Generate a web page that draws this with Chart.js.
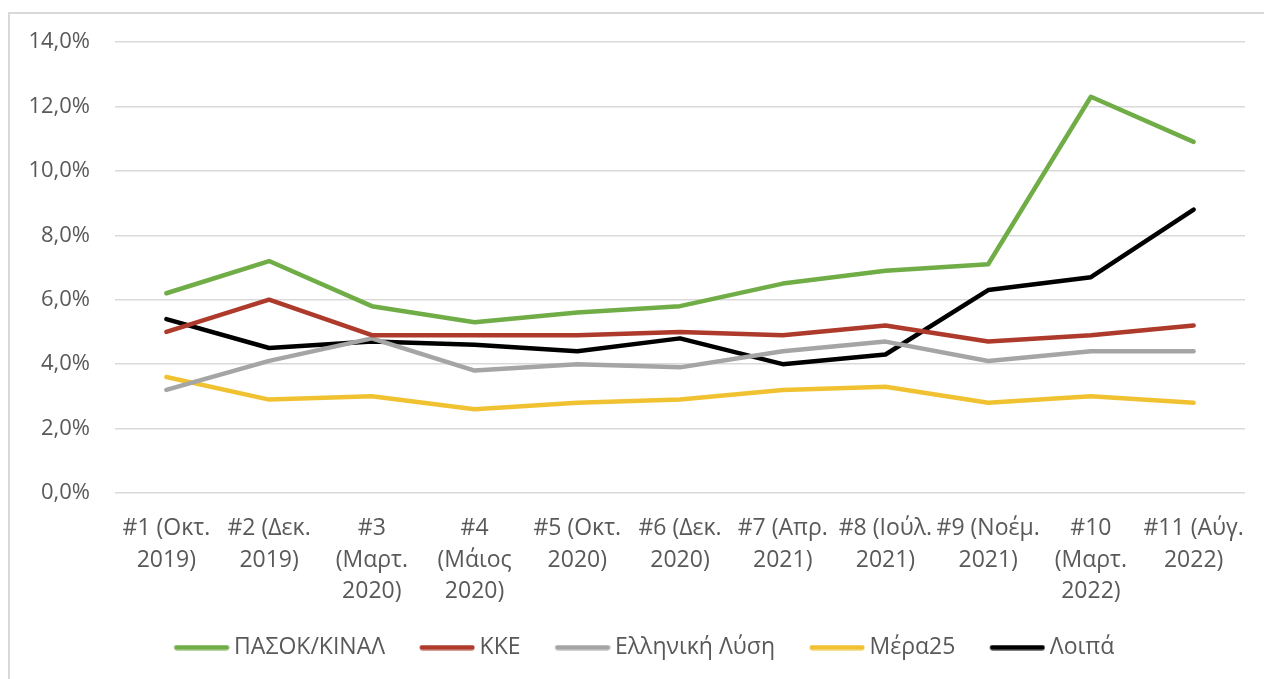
<!DOCTYPE html>
<html lang="el">
<head>
<meta charset="utf-8">
<script src="https://cdn.jsdelivr.net/npm/chart.js@4.4.1/dist/chart.umd.min.js"></script>
<style>
  html, body { margin: 0; padding: 0; background: #fff; overflow: hidden; }
  #frame {
    position: absolute; left: 8px; top: 12px;
    width: 1280px; height: 700px;
    border: 2px solid #d9d9d9; box-sizing: border-box;
  }
  #wrap { position: absolute; left: 0; top: 0; width: 1264px; height: 679px; }
</style>
</head>
<body>
<div id="frame"></div>
<div id="wrap"><canvas id="chart"></canvas></div>
<script>
// Categories (survey waves)
const waves = [
  ['#1 (Οκτ.', '2019)'],
  ['#2 (Δεκ.', '2019)'],
  ['#3', '(Μαρτ.', '2020)'],
  ['#4', '(Μάιος', '2020)'],
  ['#5 (Οκτ.', '2020)'],
  ['#6 (Δεκ.', '2020)'],
  ['#7 (Απρ.', '2021)'],
  ['#8 (Ιούλ.', '2021)'],
  ['#9 (Νοέμ.', '2021)'],
  ['#10', '(Μαρτ.', '2022)'],
  ['#11 (Αύγ.', '2022)']
];

// Series values (%)
const pasok = [6.2, 7.2, 5.8, 5.3, 5.6, 5.8, 6.5, 6.9, 7.1, 12.3, 10.9];
const kke = [5.0, 6.0, 4.9, 4.9, 4.9, 5.0, 4.9, 5.2, 4.7, 4.9, 5.2];
const ellLysi = [3.2, 4.1, 4.8, 3.8, 4.0, 3.9, 4.4, 4.7, 4.1, 4.4, 4.4];
const mera25 = [3.6, 2.9, 3.0, 2.6, 2.8, 2.9, 3.2, 3.3, 2.8, 3.0, 2.8];
const loipa = [5.4, 4.5, 4.7, 4.6, 4.4, 4.8, 4.0, 4.3, 6.3, 6.7, 8.8];

// Y axis ticks
const yTicks = [0, 2, 4, 6, 8, 10, 12, 14];

const seriesNames = ['ΠΑΣΟΚ/ΚΙΝΑΛ', 'ΚΚΕ', 'Ελληνική Λύση', 'Μέρα25', 'Λοιπά'];
const seriesData = [pasok, kke, ellLysi, mera25, loipa];
const seriesColors = ['#70ad47', '#ae3a2c', '#a5a5a5', '#f0c232', '#000000'];

const FONT = "'Open Sans', 'Noto Sans', sans-serif";
const TEXT = '#595959';

// legend swatch: 56px thick line drawn at the right side of a wider image,
// so the label text sits right next to it (box width 63 -> image 77)
const SWATCH_BOX = 63;
function legendSwatch(color) {
  const c = document.createElement('canvas');
  c.width = SWATCH_BOX + 14;
  c.height = 6;
  const g = c.getContext('2d');
  g.strokeStyle = color;
  g.lineWidth = 5;
  g.lineCap = 'round';
  g.beginPath();
  g.moveTo(c.width - 56 + 3, 3);
  g.lineTo(c.width - 3, 3);
  g.stroke();
  return c;
}
const swatches = seriesColors.map(legendSwatch);

function makeDataset(i) {
  return {
    label: seriesNames[i],
    data: seriesData[i],
    borderColor: seriesColors[i],
    backgroundColor: seriesColors[i],
    borderWidth: 4.5,
    borderCapStyle: 'round',
    borderJoinStyle: 'round',
    pointRadius: 0,
    tension: 0
  };
}

new Chart(document.getElementById('chart'), {
  type: 'line',
  data: {
    labels: waves,
    datasets: seriesNames.map((n, i) => makeDataset(i))
  },
  options: {
    responsive: true,
    maintainAspectRatio: false,
    animation: false,
    layout: { padding: { left: 10, right: 0, top: 42, bottom: 10 } },
    plugins: {
      tooltip: { enabled: false },
      legend: {
        position: 'bottom',
        labels: {
          font: { family: FONT, size: 23 },
          color: TEXT,
          usePointStyle: true,
          pointStyleWidth: SWATCH_BOX,
          boxHeight: 23,
          padding: 20,
          generateLabels: (chart) => chart.data.datasets.map((ds, i) => ({
            text: ds.label,
            fillStyle: ds.borderColor,
            strokeStyle: ds.borderColor,
            lineWidth: 0,
            pointStyle: swatches[i],
            fontColor: TEXT,
            datasetIndex: i,
            hidden: false
          }))
        }
      }
    },
    scales: {
      x: {
        offset: true,
        grid: { display: false, drawTicks: false },
        border: { display: false },
        ticks: {
          font: { family: FONT, size: 23, lineHeight: 1.37 },
          color: TEXT,
          padding: 20,
          maxRotation: 0,
          autoSkip: false
        },
        afterFit: (scale) => {
          scale.height = 123;
          scale.paddingLeft = 0;
          scale.paddingRight = 19;
        }
      },
      y: {
        min: 0,
        max: 14,
        afterBuildTicks: (scale) => { scale.ticks = yTicks.map(v => ({ value: v })); },
        grid: { color: '#d9d9d9', lineWidth: 1.5, drawTicks: false },
        border: { display: false },
        ticks: {
          font: { family: FONT, size: 22 },
          color: TEXT,
          padding: 25,
          callback: (v) => v.toFixed(1).replace('.', ',') + '%'
        },
        afterFit: (scale) => { scale.width = 105; }
      }
    }
  }
});
</script>
</body>
</html>
